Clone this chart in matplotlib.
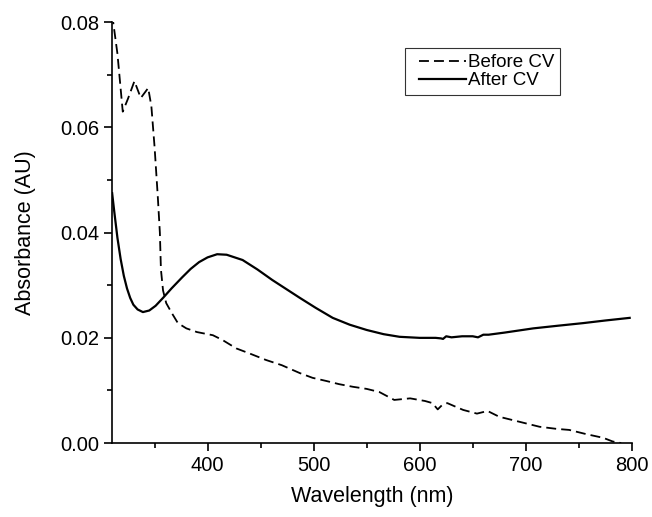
import matplotlib
matplotlib.use("Agg")
import matplotlib.pyplot as plt
from matplotlib.ticker import MultipleLocator, FormatStrFormatter
from matplotlib.legend_handler import HandlerLine2D

plt.rcParams['font.family'] = ['Liberation Sans', 'DejaVu Sans']

# spectrum before CV (dashed)
wl_before = [310, 315, 320, 325, 331, 337, 344, 347, 350, 353, 355, 356, 358, 361, 366, 372,
             380, 390, 405, 414, 427, 440, 455, 470, 487, 499, 512, 524, 537, 550, 562,
             576, 591, 605, 612, 617, 621, 626, 634, 641, 654, 664, 675, 691, 713, 729,
             741, 757, 773, 782, 790]
abs_before = [0.0815, 0.0740, 0.0630, 0.0655, 0.0688, 0.0656, 0.0675, 0.0640, 0.0563, 0.0470,
              0.0400, 0.0330, 0.0290, 0.0266, 0.0248, 0.0228, 0.0218, 0.0211, 0.0205, 0.0196,
              0.0180, 0.0170, 0.0158, 0.0148, 0.0133, 0.0124, 0.0118, 0.0112, 0.0107, 0.0103,
              0.0097, 0.0082, 0.0085, 0.0080, 0.0076, 0.0064, 0.0072, 0.0076, 0.0069, 0.0063,
              0.0056, 0.0061, 0.0050, 0.0042, 0.0031, 0.0027, 0.0025, 0.0017, 0.0010, 0.0003,
              0.0000]

# spectrum after CV (solid)
wl_after = [310, 312, 315, 318, 321, 324, 327, 330, 334, 339, 345, 351, 358, 366, 376, 384,
            392, 400, 409, 418, 433, 447, 461, 474, 487, 502, 518, 534, 550, 566, 581,
            600, 615, 620, 622, 625, 630, 640, 650, 655, 660, 665, 680, 707, 730, 754,
            775, 798]
abs_after = [0.0475, 0.0440, 0.0390, 0.0350, 0.0318, 0.0294, 0.0276, 0.0263, 0.0254, 0.0249,
             0.0252, 0.0261, 0.0276, 0.0294, 0.0315, 0.0331, 0.0344, 0.0353, 0.0359, 0.0358,
             0.0348, 0.0330, 0.0310, 0.0293, 0.0276, 0.0257, 0.0238, 0.0225, 0.0215, 0.0207,
             0.0202, 0.0200, 0.0200, 0.0199, 0.0198, 0.0203, 0.0201, 0.0203, 0.0203, 0.0201,
             0.0206, 0.0206, 0.0210, 0.0218, 0.0223, 0.0228, 0.0233, 0.0238]

fig = plt.figure(figsize=(6.52, 5.17), dpi=100)
ax = fig.add_axes([0.172, 0.143, 0.797, 0.814])

ax.plot(wl_before, abs_before, color='black', lw=1.3, ls=(0, (5.5, 2.8)), label='Before CV')
ax.plot(wl_after, abs_after, color='black', lw=1.6, label='After CV')

ax.set_xlim(310, 800)
ax.set_ylim(0, 0.08)
ax.xaxis.set_major_locator(MultipleLocator(100))
ax.xaxis.set_minor_locator(MultipleLocator(50))
ax.yaxis.set_major_locator(MultipleLocator(0.02))
ax.yaxis.set_minor_locator(MultipleLocator(0.01))
ax.yaxis.set_major_formatter(FormatStrFormatter('%.2f'))

ax.spines['top'].set_visible(False)
ax.spines['right'].set_visible(False)
for s in ['left', 'bottom']:
    ax.spines[s].set_linewidth(1.2)
ax.tick_params(which='major', direction='out', length=6, width=1.2, labelsize=14.5, pad=3)
ax.tick_params(which='minor', direction='out', length=3.5, width=1.2)

ax.set_xlabel('Wavelength (nm)', fontsize=15.5, labelpad=8)
ax.set_ylabel('Absorbance (AU)', fontsize=15.5, labelpad=18)

leg = ax.legend(loc='upper left', bbox_to_anchor=(0.563, 0.938), borderaxespad=0,
                fontsize=13.5, frameon=True, fancybox=False, handlelength=2.95,
                handletextpad=0.1, labelspacing=0.05, borderpad=0.3,
                handler_map={plt.Line2D: HandlerLine2D(xpad=0.45)})
leg.get_frame().set_edgecolor('black')
leg.get_frame().set_linewidth(0.8)

fig.savefig('out.png', dpi=100)
